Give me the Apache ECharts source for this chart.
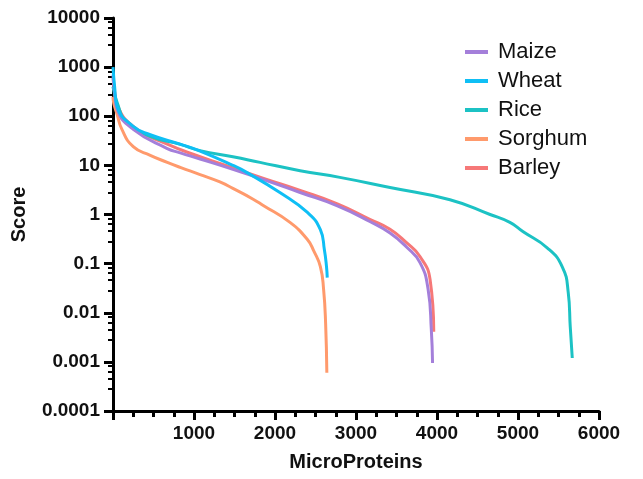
<!DOCTYPE html>
<html style="height: 100%">
<head>
    <meta charset="utf-8">
</head>
<body style="height: 100%; margin: 0; background: #fff">
<div id="main" style="width: 643px; height: 479px"></div>

<script type="text/javascript" src="https://cdn.jsdelivr.net/npm/echarts@6/dist/echarts.min.js"></script>

<script type="text/javascript">
    // [MicroProteins rank, Score]
    var maize = [[0, 700], [20, 300], [50, 140], [250, 54], [670, 22], [830, 18], [1075, 13.5], [1480, 8.3], [1850, 5.2],
        [2310, 2.8], [2770, 1.5], [3170, 0.72], [3420, 0.42], [3620, 0.22], [3790, 0.105], [3890, 0.03], [3930, 0.0045], [3945, 0.00095]];
    var wheat = [[0, 1000], [20, 400], [50, 160], [250, 62], [460, 42], [830, 27], [1075, 19.5], [1480, 10], [1650, 7.2],
        [2060, 2.8], [2400, 1.1], [2560, 0.49], [2610, 0.19], [2635, 0.09], [2645, 0.052]];
    var rice = [[0, 400], [50, 193], [170, 75], [460, 39], [830, 26.8], [1075, 20], [1480, 15], [1815, 11.5], [2310, 7.8],
        [2800, 5.7], [3420, 3.55], [4160, 2.0], [4655, 1.0], [4900, 0.69], [5060, 0.45], [5360, 0.21], [5545, 0.087],
        [5620, 0.026], [5645, 0.0052], [5670, 0.0012]];
    var sorghum = [[0, 250], [10, 180], [50, 110], [110, 54], [250, 24], [460, 16], [670, 11.5], [830, 9.1], [1075, 6.5],
        [1320, 4.6], [1480, 3.4], [1730, 2.05], [1850, 1.55], [2185, 0.69], [2400, 0.31], [2480, 0.18],
        [2560, 0.087], [2600, 0.03], [2625, 0.006], [2640, 0.0006]];
    var barley = [[0, 600], [20, 320], [50, 175], [250, 62], [670, 27], [1075, 15], [1480, 8.9], [1850, 5.5],
        [2310, 3.1], [2770, 1.65], [3170, 0.8], [3420, 0.5], [3620, 0.27], [3790, 0.14], [3915, 0.047], [3960, 0.0041]];

    var names = ['Maize', 'Wheat', 'Rice', 'Sorghum', 'Barley'];
    var colors = ['#a47fda', '#0fbff5', '#1cc2c4', '#ff9a6c', '#f67878'];
    var yTickLabels = ['0.0001', '0.001', '0.01', '0.1', '1', '10', '100', '1000', '10000'];

    var font = '"Liberation Sans", Arial, sans-serif';
    var chart = echarts.init(document.getElementById('main'));

    function line(name, data, z) {
        var i = names.indexOf(name);
        return {
            name: name,
            type: 'line',
            data: data,
            showSymbol: false,
            smooth: 0.5,
            z: z,
            color: colors[i],
            lineStyle: {width: 3, color: colors[i]}
        };
    }

    chart.setOption({
        animation: false,
        grid: {left: 113, right: 44, top: 18, bottom: 68},
        legend: {
            data: names,
            orient: 'vertical',
            left: 460,
            top: 36,
            icon: 'rect',
            itemWidth: 23,
            itemHeight: 4,
            itemGap: 7,
            textStyle: {fontFamily: font, fontSize: 22, color: '#111', padding: [0, 0, 0, 5]}
        },
        xAxis: {
            type: 'value',
            min: 0,
            max: 6000,
            interval: 1000,
            name: 'MicroProteins',
            nameLocation: 'middle',
            nameGap: 41,
            nameTextStyle: {fontFamily: font, fontSize: 20, fontWeight: 'bold', color: '#111'},
            axisLine: {onZero: false, lineStyle: {color: '#000', width: 3}},
            axisTick: {length: 9, lineStyle: {color: '#000', width: 3}},
            minorTick: {show: true, splitNumber: 4, length: 6, lineStyle: {color: '#000', width: 3}},
            splitLine: {show: false},
            axisLabel: {
                margin: 13,
                fontFamily: font, fontSize: 19, fontWeight: 'bold', color: '#111',
                formatter: function (v) { return v === 0 ? '' : String(v); }
            }
        },
        yAxis: [{
            type: 'log',
            logBase: 10,
            min: 0.0001,
            max: 10000,
            name: 'Score',
            nameLocation: 'middle',
            nameGap: 84,
            nameTextStyle: {fontFamily: font, fontSize: 20, fontWeight: 'bold', color: '#111'},
            axisLine: {show: true, onZero: false, lineStyle: {color: '#000', width: 3}},
            axisTick: {show: true, length: 9, lineStyle: {color: '#000', width: 3}},
            minorTick: {show: true, splitNumber: 5, length: 5, lineStyle: {color: '#000', width: 2}},
            splitLine: {show: false},
            axisLabel: {
                margin: 13,
                fontFamily: font, fontSize: 19, fontWeight: 'bold', color: '#111',
                formatter: function (v) {
                    return yTickLabels[Math.round(Math.log10(v)) + 4];
                }
            }
        }, {
            type: 'value',
            position: 'right',
            min: -4,
            max: 4,
            axisLine: {show: true, onZero: false, lineStyle: {color: '#fff'}},
            axisLabel: {show: true, color: '#fff'},
            axisTick: {show: false},
            splitLine: {show: false}
        }],
        series: [
            line('Barley', barley, 2),
            line('Sorghum', sorghum, 3),
            line('Rice', rice, 4),
            line('Maize', maize, 5),
            line('Wheat', wheat, 6)
        ]
    });
</script>
</body>
</html>
